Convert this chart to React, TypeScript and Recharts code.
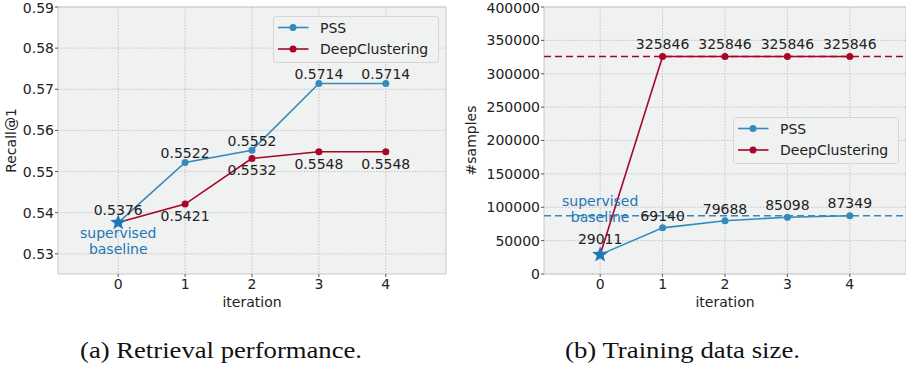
import React from "react";
import {
  ComposedChart,
  Line,
  XAxis,
  YAxis,
  CartesianGrid,
  ReferenceArea,
  ReferenceLine,
  LabelList,
  Legend,
  Label,
} from "recharts";

const iterations = [0, 1, 2, 3, 4];
const recallPSS = [0.5376, 0.5522, 0.5552, 0.5714, 0.5714];
const recallDC = [0.5376, 0.5421, 0.5532, 0.5548, 0.5548];
const samplesPSS = [29011, 69140, 79688, 85098, 87349];
const samplesDC = [29011, 325846, 325846, 325846, 325846];

const recallTicks = [0.53, 0.54, 0.55, 0.56, 0.57, 0.58, 0.59];
const samplesTicks = [0, 50000, 100000, 150000, 200000, 250000, 300000, 350000, 400000];
const xTicks = [0, 1, 2, 3, 4];

const BLUE = "#348ABD";
const RED = "#A60628";
const STAR = "#1f77b4";
const BG = "#f0f1f1";
const FONT = "DejaVu Sans";
const TEXT = "#222";

const recallData = iterations.map((it, i) => ({ it, pss: recallPSS[i], dc: recallDC[i] }));
const samplesData = iterations.map((it, i) => ({ it, pss: samplesPSS[i], dc: samplesDC[i] }));

function starPath(cx: number, cy: number, R: number, r: number) {
  let d = "";
  for (let k = 0; k < 10; k++) {
    const rad = k % 2 === 0 ? R : r;
    const a = -Math.PI / 2 + (k * Math.PI) / 5;
    d += (k === 0 ? "M" : "L") + (cx + rad * Math.cos(a)).toFixed(2) + "," + (cy + rad * Math.sin(a)).toFixed(2);
  }
  return d + "Z";
}

const Dot = (color: string) => (p: any) => (
  <circle key={p.index} cx={p.cx} cy={p.cy} r={3.5} fill={color} stroke="none" />
);

// the iteration-0 point is the supervised baseline, drawn as a star on top
const BaselineDot = (color: string, l1: number, l2: number) => (p: any) => {
  if (p.index !== 0) return <circle key={p.index} cx={p.cx} cy={p.cy} r={3.5} fill={color} stroke="none" />;
  return (
    <g key="star">
      <path d={starPath(p.cx, p.cy, 8.5, 3.5)} fill={STAR} />
      <text x={p.cx} y={p.cy + l1} textAnchor="middle" fontSize={14} fontFamily={FONT} fill={STAR}>
        supervised
      </text>
      <text x={p.cx} y={p.cy + l2} textAnchor="middle" fontSize={14} fontFamily={FONT} fill={STAR}>
        baseline
      </text>
    </g>
  );
};

const makeLabel = (dy: number, dyFirst: number, skipFirst: boolean) => (p: any) => {
  if (skipFirst && p.index === 0) return null;
  const off = p.index === 0 ? dyFirst : dy;
  return (
    <text x={p.x} y={p.y + off} textAnchor="middle" fontSize={14} fontFamily={FONT} fill={TEXT}>
      {p.value}
    </text>
  );
};

const LegendBox = () => (
  <svg width={166} height={47}>
    <rect x={0.5} y={0.5} width={165} height={46} rx={2} fill={BG} stroke="#d6d6d6" />
    {[
      { name: "PSS", color: BLUE, y: 11.5 },
      { name: "DeepClustering", color: RED, y: 33 },
    ].map((e) => (
      <g key={e.name}>
        <line x1={5} x2={35.5} y1={e.y} y2={e.y} stroke={e.color} strokeWidth={1.6} />
        <circle cx={20} cy={e.y} r={3.5} fill={e.color} />
        <text x={47} y={e.y + 5} fontSize={14} fontFamily={FONT} fill={TEXT}>
          {e.name}
        </text>
      </g>
    ))}
  </svg>
);

const yTitle = (text: string, x: number) => (p: any) => {
  const vb = p.viewBox;
  const cy = vb.y + vb.height / 2;
  return (
    <text x={x} y={cy} transform={`rotate(-90, ${x}, ${cy})`} textAnchor="middle" fontSize={14} fontFamily={FONT} fill={TEXT}>
      {text}
    </text>
  );
};

const xTitle = (p: any) => {
  const vb = p.viewBox;
  return (
    <text x={vb.x + vb.width / 2} y={306.5} textAnchor="middle" fontSize={14} fontFamily={FONT} fill={TEXT}>
      iteration
    </text>
  );
};

const tickStyle = { fontSize: 14, fill: TEXT, fontFamily: FONT };

export default function App() {
  return (
    <div style={{ position: "absolute", left: 0, top: 0, width: 906, height: 368, background: "#fff", fontFamily: FONT, overflow: "hidden" }}>
      <div style={{ position: "absolute", left: 0, top: 0 }}>
        <ComposedChart width={450} height={320} data={recallData} margin={{ top: 7, right: 4, bottom: 0, left: 0 }}>
          <CartesianGrid stroke="#c4c4c4" strokeDasharray="1.5 1.5" fill={BG} horizontalValues={recallTicks} verticalValues={xTicks} />
          <ReferenceArea x1={-0.9} x2={4.9} y1={0.5251} y2={0.59} fill="none" stroke="#c8c8c8" strokeWidth={1} ifOverflow="visible" />
          <XAxis dataKey="it" type="number" domain={[-0.9, 4.9]} ticks={xTicks} allowDataOverflow height={46} tick={tickStyle} tickSize={3} tickMargin={2} axisLine={false} tickLine={{ stroke: "#555" }}>
            <Label content={xTitle} />
          </XAxis>
          <YAxis type="number" domain={[0.5251, 0.59]} ticks={recallTicks} allowDataOverflow width={58} tick={tickStyle} tickSize={3} tickMargin={1} axisLine={false} tickLine={{ stroke: "#555" }} tickFormatter={(v: number) => v.toFixed(2)}>
            <Label content={yTitle("Recall@1", 16)} />
          </YAxis>
          <Line dataKey="pss" name="PSS" stroke={BLUE} strokeWidth={1.6} dot={Dot(BLUE)} isAnimationActive={false}>
            <LabelList dataKey="pss" content={makeLabel(-4.4, -7.7, false)} />
          </Line>
          <Line dataKey="dc" name="DeepClustering" stroke={RED} strokeWidth={1.6} dot={BaselineDot(RED, 15.3, 31.9)} isAnimationActive={false}>
            <LabelList dataKey="dc" content={makeLabel(16.7, 16.7, true)} />
          </Line>
          <Legend layout="vertical" align="center" verticalAlign="middle" content={LegendBox} wrapperStyle={{ left: 272.5, top: 15.5, width: 166, height: 47 }} />
        </ComposedChart>
      </div>
      <div style={{ position: "absolute", left: 450, top: 0 }}>
        <ComposedChart width={456} height={320} data={samplesData} margin={{ top: 7, right: 0, bottom: 0, left: 0 }}>
          <CartesianGrid stroke="#c4c4c4" strokeDasharray="1.5 1.5" fill={BG} horizontalValues={samplesTicks} verticalValues={xTicks} />
          <ReferenceArea x1={-0.9} x2={4.9} y1={0} y2={400000} fill="none" stroke="#c8c8c8" strokeWidth={1} ifOverflow="visible" />
          <XAxis dataKey="it" type="number" domain={[-0.9, 4.9]} ticks={xTicks} allowDataOverflow height={46} tick={tickStyle} tickSize={3} tickMargin={2} axisLine={false} tickLine={{ stroke: "#555" }}>
            <Label content={xTitle} />
          </XAxis>
          <YAxis type="number" domain={[0, 400000]} ticks={samplesTicks} allowDataOverflow width={94} tick={tickStyle} tickSize={3} tickMargin={1} axisLine={false} tickLine={{ stroke: "#555" }}>
            <Label content={yTitle("#samples", 26)} />
          </YAxis>
          <ReferenceLine y={samplesDC[4]} stroke={RED} strokeWidth={1.6} strokeDasharray="7 4" />
          <ReferenceLine y={samplesPSS[4]} stroke={BLUE} strokeWidth={1.6} strokeDasharray="7 4" />
          <Line dataKey="pss" name="PSS" stroke={BLUE} strokeWidth={1.6} dot={Dot(BLUE)} isAnimationActive={false}>
            <LabelList dataKey="pss" content={makeLabel(-7.3, -10.7, false)} />
          </Line>
          <Line dataKey="dc" name="DeepClustering" stroke={RED} strokeWidth={1.6} dot={BaselineDot(RED, -48.4, -32.4)} isAnimationActive={false}>
            <LabelList dataKey="dc" content={makeLabel(-7.3, -7.3, true)} />
          </Line>
          <Legend layout="vertical" align="center" verticalAlign="middle" content={LegendBox} wrapperStyle={{ left: 283, top: 117, width: 166, height: 47 }} />
        </ComposedChart>
      </div>
      <svg style={{ position: "absolute", left: 0, top: 320 }} width={906} height={48}>
        <text x={221} y={38} textAnchor="middle" fontFamily="Liberation Serif" fontSize={23} fill="#111" textLength={282} lengthAdjust="spacingAndGlyphs">
          (a) Retrieval performance.
        </text>
        <text x={682.5} y={38} textAnchor="middle" fontFamily="Liberation Serif" fontSize={23} fill="#111" textLength={235} lengthAdjust="spacingAndGlyphs">
          (b) Training data size.
        </text>
      </svg>
    </div>
  );
}
